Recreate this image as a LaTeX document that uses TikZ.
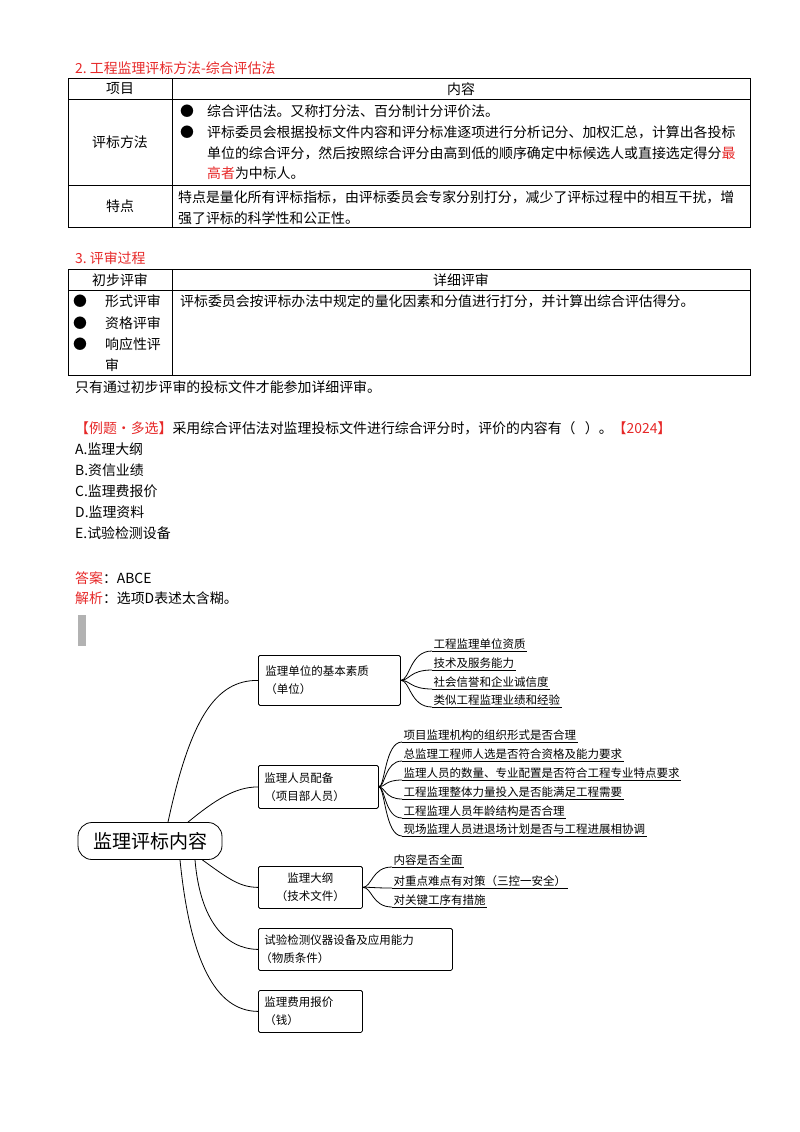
\documentclass[tikz,border=0pt]{standalone}
\usepackage{fontspec}
\setmainfont{Noto Sans CJK SC}
\newfontfamily\cjk{Noto Sans CJK SC}
\definecolor{rd}{RGB}{230,40,40}
\begin{document}
\begin{tikzpicture}[x=1pt,y=-1pt,
  txt/.style={anchor=west,inner sep=0pt,font=\fontsize{13.9}{15}\selectfont},
  ctr/.style={inner sep=0pt,font=\fontsize{13.9}{15}\selectfont},
  box/.style={draw,thick,rounded corners=1.5pt,anchor=north west,align=left,font=\fontsize{11.5}{18}\selectfont,inner sep=0pt},
  leaf/.style={anchor=south west,inner sep=1.5pt,font=\fontsize{11.5}{12}\selectfont},
  br/.style={thick}]
\useasboundingbox (0,0) rectangle (800,1132);
% section 2
\node[txt,text=rd] (t2) at (75,68) {2.\ 工程监理评标方法-综合评估法};
\draw[line width=0.8pt] (68,78) rectangle (750,227);
\draw (68,99)--(750,99) (68,185)--(750,185) (172,78)--(172,227);
\node[ctr] (h1) at (120,89) {项目};
\node[ctr] (h2) at (461,89) {内容};
\node[ctr] (r1) at (120,142) {评标方法};
\node[ctr] (r2) at (120,206) {特点};
\node[txt] (b1) at (180,111) {●};
\node[txt] (b2) at (180,132) {●};
\node[txt] (l1) at (207,111) {综合评估法。又称打分法、百分制计分评价法。};
\node[txt] (l2) at (207,132) {评标委员会根据投标文件内容和评分标准逐项进行分析记分、加权汇总，计算出各投标};
\node[txt] (l3) at (207,153) {单位的综合评分，然后按照综合评分由高到低的顺序确定中标候选人或直接选定得分\textcolor{rd}{最}};
\node[txt] (l4) at (207,173) {\textcolor{rd}{高者}为中标人。};
\node[txt] (l5) at (178,197) {特点是量化所有评标指标，由评标委员会专家分别打分，减少了评标过程中的相互干扰，增};
\node[txt] (l6) at (178,218) {强了评标的科学性和公正性。};
% section 3
\node[txt,text=rd] (t3) at (75,258) {3.\ 评审过程};
\draw[line width=0.8pt] (68,269) rectangle (750,375);
\draw (68,290)--(750,290) (172,269)--(172,375);
\node[ctr] (h3) at (120,280) {初步评审};
\node[ctr] (h4) at (461,280) {详细评审};
\node[txt] (c1) at (73,301) {●};
\node[txt] (c2) at (73,323) {●};
\node[txt] (c3) at (73,344) {●};
\node[txt] (d1) at (105,301) {形式评审};
\node[txt] (d2) at (105,323) {资格评审};
\node[txt] (d3) at (105,344) {响应性评};
\node[txt] (d4) at (105,365) {审};
\node[txt] (e1) at (180,301) {评标委员会按评标办法中规定的量化因素和分值进行打分，并计算出综合评估得分。};
\node[txt] (n1) at (75,387) {只有通过初步评审的投标文件才能参加详细评审。};
\node[txt] (q) at (75,428) {\textcolor{rd}{【例题·多选】}采用综合评估法对监理投标文件进行综合评分时，评价的内容有（\ \ \ ）。\textcolor{rd}{【2024】}};
\node[txt] (oa) at (75,449) {A.监理大纲};
\node[txt] (ob) at (75,470) {B.资信业绩};
\node[txt] (oc) at (75,491) {C.监理费报价};
\node[txt] (od) at (75,512) {D.监理资料};
\node[txt] (oe) at (75,533) {E.试验检测设备};
\node[txt] (ans) at (75,578) {\textcolor{rd}{答案}：ABCE};
\node[txt] (exp) at (75,598) {\textcolor{rd}{解析}：选项D表述太含糊。};
\fill[gray!60] (78,615) rectangle (86,646);
% mind map
\node[draw,thick,rounded corners=14pt,minimum width=144pt,minimum height=37pt,font=\fontsize{19}{22}\selectfont] (root) at (150,841) {监理评标内容};
\node[box,minimum width=142pt,minimum height=50pt,text width=136pt] (k1) at (258,655) {\hspace*{4pt}监理单位的基本素质\\\hspace*{4pt}（单位）};
\node[box,minimum width=120pt,minimum height=43pt,text width=116pt] (k2) at (258,765) {\hspace*{4pt}监理人员配备\\\hspace*{4pt}（项目部人员）};
\node[box,minimum width=104pt,minimum height=42pt,text width=104pt,align=center] (k3) at (258,866) {监理大纲\\（技术文件）};
\node[box,minimum width=194pt,minimum height=42pt,text width=190pt] (k4) at (258,928) {\hspace*{4pt}试验检测仪器设备及应用能力\\（物质条件）};
\node[box,minimum width=104pt,minimum height=42pt,text width=100pt] (k5) at (258,990) {\hspace*{4pt}监理费用报价\\\hspace*{4pt}（钱）};
\draw[br] (root.north)+(18,0) .. controls (190,720) and (215,680) .. (k1.west);
\draw[br] (root.north)+(38,0) .. controls (215,800) and (235,787) .. (k2.west);
\draw[br] (root.south east)+(-20,0) .. controls (230,880) and (240,887) .. (k3.west);
\draw[br] (root.south)+(45,0) .. controls (200,920) and (225,949) .. (k4.west);
\draw[br] (root.south)+(30,0) .. controls (190,960) and (215,1011) .. (k5.west);
% leaves
\foreach \n/\y/\t in {a1/651/工程监理单位资质,a2/670/技术及服务能力,a3/689/社会信誉和企业诚信度,a4/707/类似工程监理业绩和经验}{
  \node[leaf] (\n) at (432,\y) {\t};
  \draw (\n.south west)--(\n.south east);
  \draw[br] (k1.east) .. controls (410,680) and (410,\y) .. (\n.south west);}
\foreach \n/\y/\t in {b1/742/项目监理机构的组织形式是否合理,b2/761/总监理工程师人选是否符合资格及能力要求,b3/780/监理人员的数量、专业配置是否符合工程专业特点要求,b4/799/工程监理整体力量投入是否能满足工程需要,b5/818/工程监理人员年龄结构是否合理,b6/836/现场监理人员进退场计划是否与工程进展相协调}{
  \node[leaf] (\n) at (402,\y) {\t};
  \draw (\n.south west)--(\n.south east);
  \draw[br] (k2.east) .. controls (385,787) and (385,\y) .. (\n.south west);}
\foreach \n/\y/\t in {c1/867/内容是否全面,c2/888/对重点难点有对策（三控一安全）,c3/907/对关键工序有措施}{
  \node[leaf] (\n) at (392,\y) {\t};
  \draw (\n.south west)--(\n.south east);
  \draw[br] (k3.east) .. controls (372,887) and (372,\y) .. (\n.south west);}
\end{tikzpicture}
\end{document}
